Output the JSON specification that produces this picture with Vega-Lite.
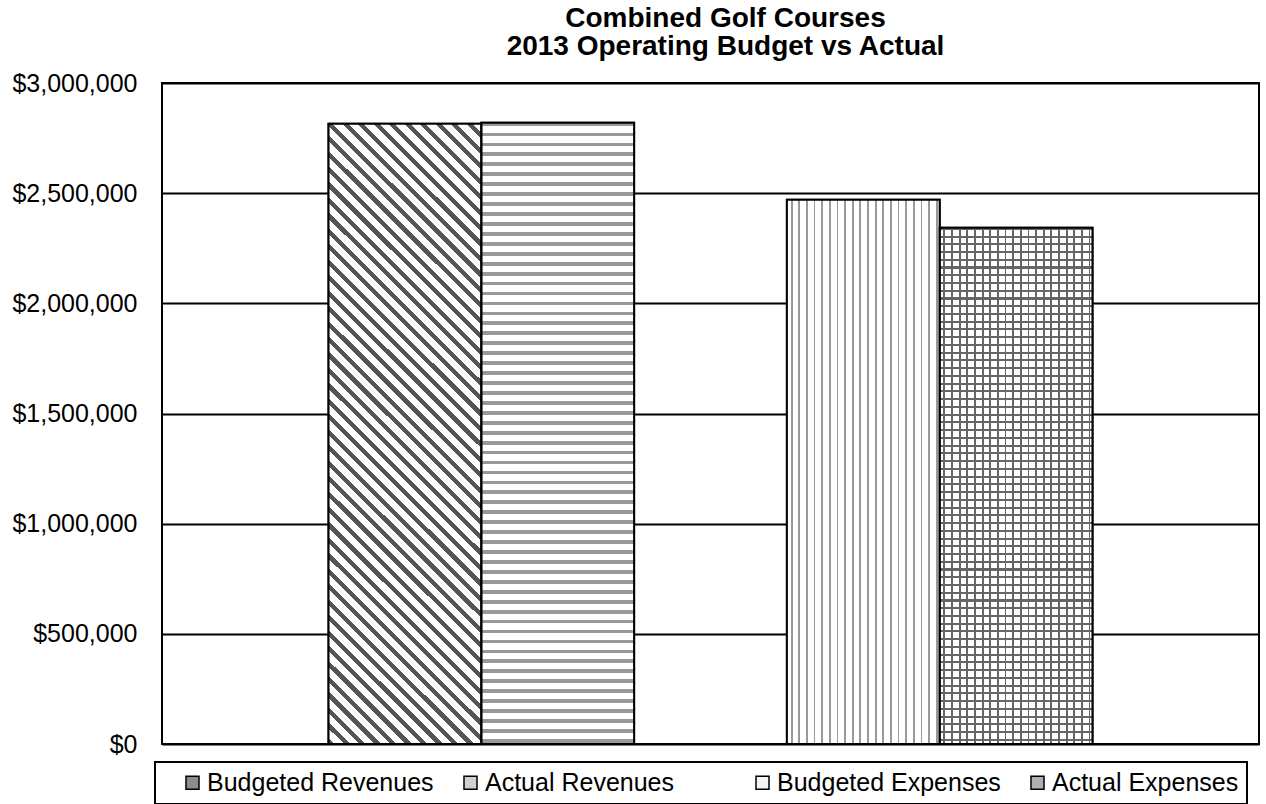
{
  "$schema": "https://vega.github.io/schema/vega-lite/v6.json",
  "width": 1097,
  "height": 661,
  "autosize": {"type": "none"},
  "padding": {"left": 162, "top": 83, "right": 7, "bottom": 60},
  "background": "white",
  "title": {
    "text": ["Combined Golf Courses", "2013 Operating Budget vs Actual"],
    "font": "Liberation Sans",
    "fontSize": 28,
    "fontWeight": "bold",
    "color": "#000",
    "anchor": "middle",
    "dx": 15,
    "lineHeight": 28,
    "offset": 10
  },
  "data": {
    "values": [
      {"series": "Budgeted Revenues", "value": 2815000},
      {"series": "Actual Revenues", "value": 2820000},
      {"series": "Budgeted Expenses", "value": 2470000},
      {"series": "Actual Expenses", "value": 2343000}
    ]
  },
  "encoding": {
    "x": {
      "field": "series",
      "type": "nominal",
      "scale": {
        "domain": ["  ", "Budgeted Revenues", "Actual Revenues", " ", "Budgeted Expenses", "Actual Expenses", "   "],
        "paddingInner": 0,
        "paddingOuter": 0.09
      },
      "axis": {"labels": false, "ticks": false, "domain": false, "title": null, "grid": false}
    },
    "y": {
      "field": "value",
      "type": "quantitative",
      "scale": {"domain": [0, 3000000], "nice": false},
      "axis": {
        "values": [0, 500000, 1000000, 1500000, 2000000, 2500000, 3000000],
        "format": "$,.0f",
        "title": null,
        "domain": false,
        "ticks": false,
        "labelPadding": 25,
        "labelFont": "Liberation Sans",
        "labelFontSize": 25,
        "labelColor": "#000",
        "grid": true,
        "gridColor": "#000",
        "gridWidth": 2,
        "gridOpacity": 1
      }
    }
  },
  "layer": [
    {
      "mark": {"type": "bar", "strokeWidth": 2},
      "encoding": {
        "color": {
          "field": "series",
          "type": "nominal",
          "scale": {
            "domain": ["Budgeted Revenues", "Actual Revenues", " ", "Budgeted Expenses", "Actual Expenses"],
            "range": ["#8c8c8c", "#d0d0d0", "rgba(255,255,255,0)", "#f4f4f4", "#b0b0b0"]
          },
          "legend": {"title": " "}
        },
        "stroke": {
          "field": "series",
          "type": "nominal",
          "scale": {
            "domain": ["Budgeted Revenues", "Actual Revenues", " ", "Budgeted Expenses", "Actual Expenses"],
            "range": ["#000", "#000", "rgba(0,0,0,0)", "#000", "#000"]
          },
          "legend": {"title": " "}
        }
      }
    },
    {
      "transform": [{"filter": "datum.series === 'Budgeted Revenues'"}],
      "mark": {
        "type": "bar",
        "fill": {
          "gradient": "linear", "x1": 0, "y1": 1, "x2": 0.2888, "y2": -0.1748,
          "stops": [
            {"offset":0,"color":"#555"},{"offset":0.008,"color":"#555"},{"offset":0.008,"color":"#fff"},{"offset":0.02,"color":"#fff"},
            {"offset":0.02,"color":"#555"},{"offset":0.028,"color":"#555"},{"offset":0.028,"color":"#fff"},{"offset":0.04,"color":"#fff"},
            {"offset":0.04,"color":"#555"},{"offset":0.048,"color":"#555"},{"offset":0.048,"color":"#fff"},{"offset":0.06,"color":"#fff"},
            {"offset":0.06,"color":"#555"},{"offset":0.068,"color":"#555"},{"offset":0.068,"color":"#fff"},{"offset":0.08,"color":"#fff"},
            {"offset":0.08,"color":"#555"},{"offset":0.088,"color":"#555"},{"offset":0.088,"color":"#fff"},{"offset":0.1,"color":"#fff"},
            {"offset":0.1,"color":"#555"},{"offset":0.108,"color":"#555"},{"offset":0.108,"color":"#fff"},{"offset":0.12,"color":"#fff"},
            {"offset":0.12,"color":"#555"},{"offset":0.128,"color":"#555"},{"offset":0.128,"color":"#fff"},{"offset":0.14,"color":"#fff"},
            {"offset":0.14,"color":"#555"},{"offset":0.148,"color":"#555"},{"offset":0.148,"color":"#fff"},{"offset":0.16,"color":"#fff"},
            {"offset":0.16,"color":"#555"},{"offset":0.168,"color":"#555"},{"offset":0.168,"color":"#fff"},{"offset":0.18,"color":"#fff"},
            {"offset":0.18,"color":"#555"},{"offset":0.188,"color":"#555"},{"offset":0.188,"color":"#fff"},{"offset":0.2,"color":"#fff"},
            {"offset":0.2,"color":"#555"},{"offset":0.208,"color":"#555"},{"offset":0.208,"color":"#fff"},{"offset":0.22,"color":"#fff"},
            {"offset":0.22,"color":"#555"},{"offset":0.228,"color":"#555"},{"offset":0.228,"color":"#fff"},{"offset":0.24,"color":"#fff"},
            {"offset":0.24,"color":"#555"},{"offset":0.248,"color":"#555"},{"offset":0.248,"color":"#fff"},{"offset":0.26,"color":"#fff"},
            {"offset":0.26,"color":"#555"},{"offset":0.268,"color":"#555"},{"offset":0.268,"color":"#fff"},{"offset":0.28,"color":"#fff"},
            {"offset":0.28,"color":"#555"},{"offset":0.288,"color":"#555"},{"offset":0.288,"color":"#fff"},{"offset":0.3,"color":"#fff"},
            {"offset":0.3,"color":"#555"},{"offset":0.308,"color":"#555"},{"offset":0.308,"color":"#fff"},{"offset":0.32,"color":"#fff"},
            {"offset":0.32,"color":"#555"},{"offset":0.328,"color":"#555"},{"offset":0.328,"color":"#fff"},{"offset":0.34,"color":"#fff"},
            {"offset":0.34,"color":"#555"},{"offset":0.348,"color":"#555"},{"offset":0.348,"color":"#fff"},{"offset":0.36,"color":"#fff"},
            {"offset":0.36,"color":"#555"},{"offset":0.368,"color":"#555"},{"offset":0.368,"color":"#fff"},{"offset":0.38,"color":"#fff"},
            {"offset":0.38,"color":"#555"},{"offset":0.388,"color":"#555"},{"offset":0.388,"color":"#fff"},{"offset":0.4,"color":"#fff"},
            {"offset":0.4,"color":"#555"},{"offset":0.408,"color":"#555"},{"offset":0.408,"color":"#fff"},{"offset":0.42,"color":"#fff"},
            {"offset":0.42,"color":"#555"},{"offset":0.428,"color":"#555"},{"offset":0.428,"color":"#fff"},{"offset":0.44,"color":"#fff"},
            {"offset":0.44,"color":"#555"},{"offset":0.448,"color":"#555"},{"offset":0.448,"color":"#fff"},{"offset":0.46,"color":"#fff"},
            {"offset":0.46,"color":"#555"},{"offset":0.468,"color":"#555"},{"offset":0.468,"color":"#fff"},{"offset":0.48,"color":"#fff"},
            {"offset":0.48,"color":"#555"},{"offset":0.488,"color":"#555"},{"offset":0.488,"color":"#fff"},{"offset":0.5,"color":"#fff"},
            {"offset":0.5,"color":"#555"},{"offset":0.508,"color":"#555"},{"offset":0.508,"color":"#fff"},{"offset":0.52,"color":"#fff"},
            {"offset":0.52,"color":"#555"},{"offset":0.528,"color":"#555"},{"offset":0.528,"color":"#fff"},{"offset":0.54,"color":"#fff"},
            {"offset":0.54,"color":"#555"},{"offset":0.548,"color":"#555"},{"offset":0.548,"color":"#fff"},{"offset":0.56,"color":"#fff"},
            {"offset":0.56,"color":"#555"},{"offset":0.568,"color":"#555"},{"offset":0.568,"color":"#fff"},{"offset":0.58,"color":"#fff"},
            {"offset":0.58,"color":"#555"},{"offset":0.588,"color":"#555"},{"offset":0.588,"color":"#fff"},{"offset":0.6,"color":"#fff"},
            {"offset":0.6,"color":"#555"},{"offset":0.608,"color":"#555"},{"offset":0.608,"color":"#fff"},{"offset":0.62,"color":"#fff"},
            {"offset":0.62,"color":"#555"},{"offset":0.628,"color":"#555"},{"offset":0.628,"color":"#fff"},{"offset":0.64,"color":"#fff"},
            {"offset":0.64,"color":"#555"},{"offset":0.648,"color":"#555"},{"offset":0.648,"color":"#fff"},{"offset":0.66,"color":"#fff"},
            {"offset":0.66,"color":"#555"},{"offset":0.668,"color":"#555"},{"offset":0.668,"color":"#fff"},{"offset":0.68,"color":"#fff"},
            {"offset":0.68,"color":"#555"},{"offset":0.688,"color":"#555"},{"offset":0.688,"color":"#fff"},{"offset":0.7,"color":"#fff"},
            {"offset":0.7,"color":"#555"},{"offset":0.708,"color":"#555"},{"offset":0.708,"color":"#fff"},{"offset":0.72,"color":"#fff"},
            {"offset":0.72,"color":"#555"},{"offset":0.728,"color":"#555"},{"offset":0.728,"color":"#fff"},{"offset":0.74,"color":"#fff"},
            {"offset":0.74,"color":"#555"},{"offset":0.748,"color":"#555"},{"offset":0.748,"color":"#fff"},{"offset":0.76,"color":"#fff"},
            {"offset":0.76,"color":"#555"},{"offset":0.768,"color":"#555"},{"offset":0.768,"color":"#fff"},{"offset":0.78,"color":"#fff"},
            {"offset":0.78,"color":"#555"},{"offset":0.788,"color":"#555"},{"offset":0.788,"color":"#fff"},{"offset":0.8,"color":"#fff"},
            {"offset":0.8,"color":"#555"},{"offset":0.808,"color":"#555"},{"offset":0.808,"color":"#fff"},{"offset":0.82,"color":"#fff"},
            {"offset":0.82,"color":"#555"},{"offset":0.828,"color":"#555"},{"offset":0.828,"color":"#fff"},{"offset":0.84,"color":"#fff"},
            {"offset":0.84,"color":"#555"},{"offset":0.848,"color":"#555"},{"offset":0.848,"color":"#fff"},{"offset":0.86,"color":"#fff"},
            {"offset":0.86,"color":"#555"},{"offset":0.868,"color":"#555"},{"offset":0.868,"color":"#fff"},{"offset":0.88,"color":"#fff"},
            {"offset":0.88,"color":"#555"},{"offset":0.888,"color":"#555"},{"offset":0.888,"color":"#fff"},{"offset":0.9,"color":"#fff"},
            {"offset":0.9,"color":"#555"},{"offset":0.908,"color":"#555"},{"offset":0.908,"color":"#fff"},{"offset":0.92,"color":"#fff"},
            {"offset":0.92,"color":"#555"},{"offset":0.928,"color":"#555"},{"offset":0.928,"color":"#fff"},{"offset":0.94,"color":"#fff"},
            {"offset":0.94,"color":"#555"},{"offset":0.948,"color":"#555"},{"offset":0.948,"color":"#fff"},{"offset":0.96,"color":"#fff"},
            {"offset":0.96,"color":"#555"},{"offset":0.968,"color":"#555"},{"offset":0.968,"color":"#fff"},{"offset":0.98,"color":"#fff"},
            {"offset":0.98,"color":"#555"},{"offset":0.988,"color":"#555"},{"offset":0.988,"color":"#fff"},{"offset":1,"color":"#fff"}
          ]
        }
      }
    },
    {
      "transform": [{"filter": "datum.series === 'Actual Revenues'"}],
      "mark": {
        "type": "bar",
        "fill": {
          "gradient": "linear", "x1": 0, "y1": 0, "x2": 0, "y2": 1,
          "stops": [
            {"offset":0,"color":"#999"},{"offset":0.006,"color":"#999"},{"offset":0.006,"color":"#fff"},{"offset":0.016,"color":"#fff"},
            {"offset":0.016,"color":"#999"},{"offset":0.022,"color":"#999"},{"offset":0.022,"color":"#fff"},{"offset":0.032,"color":"#fff"},
            {"offset":0.032,"color":"#999"},{"offset":0.038,"color":"#999"},{"offset":0.038,"color":"#fff"},{"offset":0.048,"color":"#fff"},
            {"offset":0.048,"color":"#999"},{"offset":0.054,"color":"#999"},{"offset":0.054,"color":"#fff"},{"offset":0.064,"color":"#fff"},
            {"offset":0.064,"color":"#999"},{"offset":0.07,"color":"#999"},{"offset":0.07,"color":"#fff"},{"offset":0.08,"color":"#fff"},
            {"offset":0.08,"color":"#999"},{"offset":0.086,"color":"#999"},{"offset":0.086,"color":"#fff"},{"offset":0.096,"color":"#fff"},
            {"offset":0.096,"color":"#999"},{"offset":0.102,"color":"#999"},{"offset":0.102,"color":"#fff"},{"offset":0.112,"color":"#fff"},
            {"offset":0.112,"color":"#999"},{"offset":0.118,"color":"#999"},{"offset":0.118,"color":"#fff"},{"offset":0.128,"color":"#fff"},
            {"offset":0.128,"color":"#999"},{"offset":0.134,"color":"#999"},{"offset":0.134,"color":"#fff"},{"offset":0.144,"color":"#fff"},
            {"offset":0.144,"color":"#999"},{"offset":0.15,"color":"#999"},{"offset":0.15,"color":"#fff"},{"offset":0.16,"color":"#fff"},
            {"offset":0.16,"color":"#999"},{"offset":0.166,"color":"#999"},{"offset":0.166,"color":"#fff"},{"offset":0.176,"color":"#fff"},
            {"offset":0.176,"color":"#999"},{"offset":0.182,"color":"#999"},{"offset":0.182,"color":"#fff"},{"offset":0.192,"color":"#fff"},
            {"offset":0.192,"color":"#999"},{"offset":0.198,"color":"#999"},{"offset":0.198,"color":"#fff"},{"offset":0.208,"color":"#fff"},
            {"offset":0.208,"color":"#999"},{"offset":0.214,"color":"#999"},{"offset":0.214,"color":"#fff"},{"offset":0.224,"color":"#fff"},
            {"offset":0.224,"color":"#999"},{"offset":0.23,"color":"#999"},{"offset":0.23,"color":"#fff"},{"offset":0.24,"color":"#fff"},
            {"offset":0.24,"color":"#999"},{"offset":0.246,"color":"#999"},{"offset":0.246,"color":"#fff"},{"offset":0.256,"color":"#fff"},
            {"offset":0.256,"color":"#999"},{"offset":0.262,"color":"#999"},{"offset":0.262,"color":"#fff"},{"offset":0.272,"color":"#fff"},
            {"offset":0.272,"color":"#999"},{"offset":0.278,"color":"#999"},{"offset":0.278,"color":"#fff"},{"offset":0.288,"color":"#fff"},
            {"offset":0.288,"color":"#999"},{"offset":0.294,"color":"#999"},{"offset":0.294,"color":"#fff"},{"offset":0.304,"color":"#fff"},
            {"offset":0.304,"color":"#999"},{"offset":0.31,"color":"#999"},{"offset":0.31,"color":"#fff"},{"offset":0.32,"color":"#fff"},
            {"offset":0.32,"color":"#999"},{"offset":0.326,"color":"#999"},{"offset":0.326,"color":"#fff"},{"offset":0.336,"color":"#fff"},
            {"offset":0.336,"color":"#999"},{"offset":0.342,"color":"#999"},{"offset":0.342,"color":"#fff"},{"offset":0.352,"color":"#fff"},
            {"offset":0.352,"color":"#999"},{"offset":0.358,"color":"#999"},{"offset":0.358,"color":"#fff"},{"offset":0.368,"color":"#fff"},
            {"offset":0.368,"color":"#999"},{"offset":0.374,"color":"#999"},{"offset":0.374,"color":"#fff"},{"offset":0.384,"color":"#fff"},
            {"offset":0.384,"color":"#999"},{"offset":0.39,"color":"#999"},{"offset":0.39,"color":"#fff"},{"offset":0.4,"color":"#fff"},
            {"offset":0.4,"color":"#999"},{"offset":0.406,"color":"#999"},{"offset":0.406,"color":"#fff"},{"offset":0.416,"color":"#fff"},
            {"offset":0.416,"color":"#999"},{"offset":0.422,"color":"#999"},{"offset":0.422,"color":"#fff"},{"offset":0.432,"color":"#fff"},
            {"offset":0.432,"color":"#999"},{"offset":0.438,"color":"#999"},{"offset":0.438,"color":"#fff"},{"offset":0.448,"color":"#fff"},
            {"offset":0.448,"color":"#999"},{"offset":0.454,"color":"#999"},{"offset":0.454,"color":"#fff"},{"offset":0.464,"color":"#fff"},
            {"offset":0.464,"color":"#999"},{"offset":0.47,"color":"#999"},{"offset":0.47,"color":"#fff"},{"offset":0.48,"color":"#fff"},
            {"offset":0.48,"color":"#999"},{"offset":0.486,"color":"#999"},{"offset":0.486,"color":"#fff"},{"offset":0.496,"color":"#fff"},
            {"offset":0.496,"color":"#999"},{"offset":0.502,"color":"#999"},{"offset":0.502,"color":"#fff"},{"offset":0.512,"color":"#fff"},
            {"offset":0.512,"color":"#999"},{"offset":0.518,"color":"#999"},{"offset":0.518,"color":"#fff"},{"offset":0.528,"color":"#fff"},
            {"offset":0.528,"color":"#999"},{"offset":0.534,"color":"#999"},{"offset":0.534,"color":"#fff"},{"offset":0.544,"color":"#fff"},
            {"offset":0.544,"color":"#999"},{"offset":0.55,"color":"#999"},{"offset":0.55,"color":"#fff"},{"offset":0.56,"color":"#fff"},
            {"offset":0.56,"color":"#999"},{"offset":0.566,"color":"#999"},{"offset":0.566,"color":"#fff"},{"offset":0.576,"color":"#fff"},
            {"offset":0.576,"color":"#999"},{"offset":0.582,"color":"#999"},{"offset":0.582,"color":"#fff"},{"offset":0.592,"color":"#fff"},
            {"offset":0.592,"color":"#999"},{"offset":0.598,"color":"#999"},{"offset":0.598,"color":"#fff"},{"offset":0.608,"color":"#fff"},
            {"offset":0.608,"color":"#999"},{"offset":0.614,"color":"#999"},{"offset":0.614,"color":"#fff"},{"offset":0.624,"color":"#fff"},
            {"offset":0.624,"color":"#999"},{"offset":0.63,"color":"#999"},{"offset":0.63,"color":"#fff"},{"offset":0.64,"color":"#fff"},
            {"offset":0.64,"color":"#999"},{"offset":0.646,"color":"#999"},{"offset":0.646,"color":"#fff"},{"offset":0.656,"color":"#fff"},
            {"offset":0.656,"color":"#999"},{"offset":0.662,"color":"#999"},{"offset":0.662,"color":"#fff"},{"offset":0.672,"color":"#fff"},
            {"offset":0.672,"color":"#999"},{"offset":0.678,"color":"#999"},{"offset":0.678,"color":"#fff"},{"offset":0.688,"color":"#fff"},
            {"offset":0.688,"color":"#999"},{"offset":0.694,"color":"#999"},{"offset":0.694,"color":"#fff"},{"offset":0.704,"color":"#fff"},
            {"offset":0.704,"color":"#999"},{"offset":0.71,"color":"#999"},{"offset":0.71,"color":"#fff"},{"offset":0.72,"color":"#fff"},
            {"offset":0.72,"color":"#999"},{"offset":0.726,"color":"#999"},{"offset":0.726,"color":"#fff"},{"offset":0.736,"color":"#fff"},
            {"offset":0.736,"color":"#999"},{"offset":0.742,"color":"#999"},{"offset":0.742,"color":"#fff"},{"offset":0.752,"color":"#fff"},
            {"offset":0.752,"color":"#999"},{"offset":0.758,"color":"#999"},{"offset":0.758,"color":"#fff"},{"offset":0.768,"color":"#fff"},
            {"offset":0.768,"color":"#999"},{"offset":0.774,"color":"#999"},{"offset":0.774,"color":"#fff"},{"offset":0.784,"color":"#fff"},
            {"offset":0.784,"color":"#999"},{"offset":0.79,"color":"#999"},{"offset":0.79,"color":"#fff"},{"offset":0.8,"color":"#fff"},
            {"offset":0.8,"color":"#999"},{"offset":0.806,"color":"#999"},{"offset":0.806,"color":"#fff"},{"offset":0.816,"color":"#fff"},
            {"offset":0.816,"color":"#999"},{"offset":0.822,"color":"#999"},{"offset":0.822,"color":"#fff"},{"offset":0.832,"color":"#fff"},
            {"offset":0.832,"color":"#999"},{"offset":0.838,"color":"#999"},{"offset":0.838,"color":"#fff"},{"offset":0.848,"color":"#fff"},
            {"offset":0.848,"color":"#999"},{"offset":0.854,"color":"#999"},{"offset":0.854,"color":"#fff"},{"offset":0.864,"color":"#fff"},
            {"offset":0.864,"color":"#999"},{"offset":0.87,"color":"#999"},{"offset":0.87,"color":"#fff"},{"offset":0.88,"color":"#fff"},
            {"offset":0.88,"color":"#999"},{"offset":0.886,"color":"#999"},{"offset":0.886,"color":"#fff"},{"offset":0.896,"color":"#fff"},
            {"offset":0.896,"color":"#999"},{"offset":0.902,"color":"#999"},{"offset":0.902,"color":"#fff"},{"offset":0.912,"color":"#fff"},
            {"offset":0.912,"color":"#999"},{"offset":0.918,"color":"#999"},{"offset":0.918,"color":"#fff"},{"offset":0.928,"color":"#fff"},
            {"offset":0.928,"color":"#999"},{"offset":0.934,"color":"#999"},{"offset":0.934,"color":"#fff"},{"offset":0.944,"color":"#fff"},
            {"offset":0.944,"color":"#999"},{"offset":0.95,"color":"#999"},{"offset":0.95,"color":"#fff"},{"offset":0.96,"color":"#fff"},
            {"offset":0.96,"color":"#999"},{"offset":0.966,"color":"#999"},{"offset":0.966,"color":"#fff"},{"offset":0.976,"color":"#fff"},
            {"offset":0.976,"color":"#999"},{"offset":0.982,"color":"#999"},{"offset":0.982,"color":"#fff"},{"offset":0.992,"color":"#fff"},
            {"offset":0.992,"color":"#999"},{"offset":0.998,"color":"#999"},{"offset":0.998,"color":"#fff"},{"offset":1,"color":"#fff"}
          ]
        }
      }
    },
    {
      "transform": [{"filter": "datum.series === 'Budgeted Expenses'"}],
      "mark": {
        "type": "bar",
        "fill": {
          "gradient": "linear", "x1": 0, "y1": 0, "x2": 1, "y2": 0,
          "stops": [
            {"offset":0,"color":"#fff"},
            {"offset":0.025,"color":"#fff"},{"offset":0.025,"color":"#999"},{"offset":0.037,"color":"#999"},{"offset":0.037,"color":"#fff"},
            {"offset":0.075,"color":"#fff"},{"offset":0.075,"color":"#999"},{"offset":0.087,"color":"#999"},{"offset":0.087,"color":"#fff"},
            {"offset":0.125,"color":"#fff"},{"offset":0.125,"color":"#999"},{"offset":0.137,"color":"#999"},{"offset":0.137,"color":"#fff"},
            {"offset":0.175,"color":"#fff"},{"offset":0.175,"color":"#999"},{"offset":0.187,"color":"#999"},{"offset":0.187,"color":"#fff"},
            {"offset":0.225,"color":"#fff"},{"offset":0.225,"color":"#999"},{"offset":0.237,"color":"#999"},{"offset":0.237,"color":"#fff"},
            {"offset":0.275,"color":"#fff"},{"offset":0.275,"color":"#999"},{"offset":0.287,"color":"#999"},{"offset":0.287,"color":"#fff"},
            {"offset":0.325,"color":"#fff"},{"offset":0.325,"color":"#999"},{"offset":0.337,"color":"#999"},{"offset":0.337,"color":"#fff"},
            {"offset":0.375,"color":"#fff"},{"offset":0.375,"color":"#999"},{"offset":0.387,"color":"#999"},{"offset":0.387,"color":"#fff"},
            {"offset":0.425,"color":"#fff"},{"offset":0.425,"color":"#999"},{"offset":0.437,"color":"#999"},{"offset":0.437,"color":"#fff"},
            {"offset":0.475,"color":"#fff"},{"offset":0.475,"color":"#999"},{"offset":0.487,"color":"#999"},{"offset":0.487,"color":"#fff"},
            {"offset":0.525,"color":"#fff"},{"offset":0.525,"color":"#999"},{"offset":0.537,"color":"#999"},{"offset":0.537,"color":"#fff"},
            {"offset":0.575,"color":"#fff"},{"offset":0.575,"color":"#999"},{"offset":0.587,"color":"#999"},{"offset":0.587,"color":"#fff"},
            {"offset":0.625,"color":"#fff"},{"offset":0.625,"color":"#999"},{"offset":0.637,"color":"#999"},{"offset":0.637,"color":"#fff"},
            {"offset":0.675,"color":"#fff"},{"offset":0.675,"color":"#999"},{"offset":0.687,"color":"#999"},{"offset":0.687,"color":"#fff"},
            {"offset":0.725,"color":"#fff"},{"offset":0.725,"color":"#999"},{"offset":0.737,"color":"#999"},{"offset":0.737,"color":"#fff"},
            {"offset":0.775,"color":"#fff"},{"offset":0.775,"color":"#999"},{"offset":0.787,"color":"#999"},{"offset":0.787,"color":"#fff"},
            {"offset":0.825,"color":"#fff"},{"offset":0.825,"color":"#999"},{"offset":0.837,"color":"#999"},{"offset":0.837,"color":"#fff"},
            {"offset":0.875,"color":"#fff"},{"offset":0.875,"color":"#999"},{"offset":0.887,"color":"#999"},{"offset":0.887,"color":"#fff"},
            {"offset":0.925,"color":"#fff"},{"offset":0.925,"color":"#999"},{"offset":0.937,"color":"#999"},{"offset":0.937,"color":"#fff"},
            {"offset":0.975,"color":"#fff"},{"offset":0.975,"color":"#999"},{"offset":0.987,"color":"#999"},{"offset":0.987,"color":"#fff"},
            {"offset":1,"color":"#fff"}
          ]
        }
      }
    },
    {
      "transform": [{"filter": "datum.series === 'Actual Expenses'"}],
      "mark": {
        "type": "bar",
        "fill": {
          "gradient": "linear", "x1": 0, "y1": 0, "x2": 1, "y2": 0,
          "stops": [
            {"offset":0,"color":"#fff"},
            {"offset":0.025,"color":"#fff"},{"offset":0.025,"color":"#666"},{"offset":0.037,"color":"#666"},{"offset":0.037,"color":"#fff"},
            {"offset":0.075,"color":"#fff"},{"offset":0.075,"color":"#666"},{"offset":0.087,"color":"#666"},{"offset":0.087,"color":"#fff"},
            {"offset":0.125,"color":"#fff"},{"offset":0.125,"color":"#666"},{"offset":0.137,"color":"#666"},{"offset":0.137,"color":"#fff"},
            {"offset":0.175,"color":"#fff"},{"offset":0.175,"color":"#666"},{"offset":0.187,"color":"#666"},{"offset":0.187,"color":"#fff"},
            {"offset":0.225,"color":"#fff"},{"offset":0.225,"color":"#666"},{"offset":0.237,"color":"#666"},{"offset":0.237,"color":"#fff"},
            {"offset":0.275,"color":"#fff"},{"offset":0.275,"color":"#666"},{"offset":0.287,"color":"#666"},{"offset":0.287,"color":"#fff"},
            {"offset":0.325,"color":"#fff"},{"offset":0.325,"color":"#666"},{"offset":0.337,"color":"#666"},{"offset":0.337,"color":"#fff"},
            {"offset":0.375,"color":"#fff"},{"offset":0.375,"color":"#666"},{"offset":0.387,"color":"#666"},{"offset":0.387,"color":"#fff"},
            {"offset":0.425,"color":"#fff"},{"offset":0.425,"color":"#666"},{"offset":0.437,"color":"#666"},{"offset":0.437,"color":"#fff"},
            {"offset":0.475,"color":"#fff"},{"offset":0.475,"color":"#666"},{"offset":0.487,"color":"#666"},{"offset":0.487,"color":"#fff"},
            {"offset":0.525,"color":"#fff"},{"offset":0.525,"color":"#666"},{"offset":0.537,"color":"#666"},{"offset":0.537,"color":"#fff"},
            {"offset":0.575,"color":"#fff"},{"offset":0.575,"color":"#666"},{"offset":0.587,"color":"#666"},{"offset":0.587,"color":"#fff"},
            {"offset":0.625,"color":"#fff"},{"offset":0.625,"color":"#666"},{"offset":0.637,"color":"#666"},{"offset":0.637,"color":"#fff"},
            {"offset":0.675,"color":"#fff"},{"offset":0.675,"color":"#666"},{"offset":0.687,"color":"#666"},{"offset":0.687,"color":"#fff"},
            {"offset":0.725,"color":"#fff"},{"offset":0.725,"color":"#666"},{"offset":0.737,"color":"#666"},{"offset":0.737,"color":"#fff"},
            {"offset":0.775,"color":"#fff"},{"offset":0.775,"color":"#666"},{"offset":0.787,"color":"#666"},{"offset":0.787,"color":"#fff"},
            {"offset":0.825,"color":"#fff"},{"offset":0.825,"color":"#666"},{"offset":0.837,"color":"#666"},{"offset":0.837,"color":"#fff"},
            {"offset":0.875,"color":"#fff"},{"offset":0.875,"color":"#666"},{"offset":0.887,"color":"#666"},{"offset":0.887,"color":"#fff"},
            {"offset":0.925,"color":"#fff"},{"offset":0.925,"color":"#666"},{"offset":0.937,"color":"#666"},{"offset":0.937,"color":"#fff"},
            {"offset":0.975,"color":"#fff"},{"offset":0.975,"color":"#666"},{"offset":0.987,"color":"#666"},{"offset":0.987,"color":"#fff"},
            {"offset":1,"color":"#fff"}
          ]
        }
      }
    },
    {
      "transform": [{"filter": "datum.series === 'Actual Expenses'"}],
      "mark": {
        "type": "bar",
        "fill": {
          "gradient": "linear", "x1": 0, "y1": 0, "x2": 0, "y2": 1,
          "stops": [
            {"offset":0,"color":"#666"},{"offset":0.004,"color":"#666"},{"offset":0.004,"color":"rgba(0,0,0,0)"},{"offset":0.015,"color":"rgba(0,0,0,0)"},
            {"offset":0.015,"color":"#666"},{"offset":0.019,"color":"#666"},{"offset":0.019,"color":"rgba(0,0,0,0)"},{"offset":0.03,"color":"rgba(0,0,0,0)"},
            {"offset":0.03,"color":"#666"},{"offset":0.034,"color":"#666"},{"offset":0.034,"color":"rgba(0,0,0,0)"},{"offset":0.045,"color":"rgba(0,0,0,0)"},
            {"offset":0.045,"color":"#666"},{"offset":0.049,"color":"#666"},{"offset":0.049,"color":"rgba(0,0,0,0)"},{"offset":0.06,"color":"rgba(0,0,0,0)"},
            {"offset":0.06,"color":"#666"},{"offset":0.064,"color":"#666"},{"offset":0.064,"color":"rgba(0,0,0,0)"},{"offset":0.075,"color":"rgba(0,0,0,0)"},
            {"offset":0.075,"color":"#666"},{"offset":0.079,"color":"#666"},{"offset":0.079,"color":"rgba(0,0,0,0)"},{"offset":0.09,"color":"rgba(0,0,0,0)"},
            {"offset":0.09,"color":"#666"},{"offset":0.094,"color":"#666"},{"offset":0.094,"color":"rgba(0,0,0,0)"},{"offset":0.105,"color":"rgba(0,0,0,0)"},
            {"offset":0.105,"color":"#666"},{"offset":0.109,"color":"#666"},{"offset":0.109,"color":"rgba(0,0,0,0)"},{"offset":0.12,"color":"rgba(0,0,0,0)"},
            {"offset":0.12,"color":"#666"},{"offset":0.124,"color":"#666"},{"offset":0.124,"color":"rgba(0,0,0,0)"},{"offset":0.135,"color":"rgba(0,0,0,0)"},
            {"offset":0.135,"color":"#666"},{"offset":0.139,"color":"#666"},{"offset":0.139,"color":"rgba(0,0,0,0)"},{"offset":0.15,"color":"rgba(0,0,0,0)"},
            {"offset":0.15,"color":"#666"},{"offset":0.154,"color":"#666"},{"offset":0.154,"color":"rgba(0,0,0,0)"},{"offset":0.165,"color":"rgba(0,0,0,0)"},
            {"offset":0.165,"color":"#666"},{"offset":0.169,"color":"#666"},{"offset":0.169,"color":"rgba(0,0,0,0)"},{"offset":0.18,"color":"rgba(0,0,0,0)"},
            {"offset":0.18,"color":"#666"},{"offset":0.184,"color":"#666"},{"offset":0.184,"color":"rgba(0,0,0,0)"},{"offset":0.195,"color":"rgba(0,0,0,0)"},
            {"offset":0.195,"color":"#666"},{"offset":0.199,"color":"#666"},{"offset":0.199,"color":"rgba(0,0,0,0)"},{"offset":0.21,"color":"rgba(0,0,0,0)"},
            {"offset":0.21,"color":"#666"},{"offset":0.214,"color":"#666"},{"offset":0.214,"color":"rgba(0,0,0,0)"},{"offset":0.225,"color":"rgba(0,0,0,0)"},
            {"offset":0.225,"color":"#666"},{"offset":0.229,"color":"#666"},{"offset":0.229,"color":"rgba(0,0,0,0)"},{"offset":0.24,"color":"rgba(0,0,0,0)"},
            {"offset":0.24,"color":"#666"},{"offset":0.244,"color":"#666"},{"offset":0.244,"color":"rgba(0,0,0,0)"},{"offset":0.255,"color":"rgba(0,0,0,0)"},
            {"offset":0.255,"color":"#666"},{"offset":0.259,"color":"#666"},{"offset":0.259,"color":"rgba(0,0,0,0)"},{"offset":0.27,"color":"rgba(0,0,0,0)"},
            {"offset":0.27,"color":"#666"},{"offset":0.274,"color":"#666"},{"offset":0.274,"color":"rgba(0,0,0,0)"},{"offset":0.285,"color":"rgba(0,0,0,0)"},
            {"offset":0.285,"color":"#666"},{"offset":0.289,"color":"#666"},{"offset":0.289,"color":"rgba(0,0,0,0)"},{"offset":0.3,"color":"rgba(0,0,0,0)"},
            {"offset":0.3,"color":"#666"},{"offset":0.304,"color":"#666"},{"offset":0.304,"color":"rgba(0,0,0,0)"},{"offset":0.315,"color":"rgba(0,0,0,0)"},
            {"offset":0.315,"color":"#666"},{"offset":0.319,"color":"#666"},{"offset":0.319,"color":"rgba(0,0,0,0)"},{"offset":0.33,"color":"rgba(0,0,0,0)"},
            {"offset":0.33,"color":"#666"},{"offset":0.334,"color":"#666"},{"offset":0.334,"color":"rgba(0,0,0,0)"},{"offset":0.345,"color":"rgba(0,0,0,0)"},
            {"offset":0.345,"color":"#666"},{"offset":0.349,"color":"#666"},{"offset":0.349,"color":"rgba(0,0,0,0)"},{"offset":0.36,"color":"rgba(0,0,0,0)"},
            {"offset":0.36,"color":"#666"},{"offset":0.364,"color":"#666"},{"offset":0.364,"color":"rgba(0,0,0,0)"},{"offset":0.375,"color":"rgba(0,0,0,0)"},
            {"offset":0.375,"color":"#666"},{"offset":0.379,"color":"#666"},{"offset":0.379,"color":"rgba(0,0,0,0)"},{"offset":0.39,"color":"rgba(0,0,0,0)"},
            {"offset":0.39,"color":"#666"},{"offset":0.394,"color":"#666"},{"offset":0.394,"color":"rgba(0,0,0,0)"},{"offset":0.405,"color":"rgba(0,0,0,0)"},
            {"offset":0.405,"color":"#666"},{"offset":0.409,"color":"#666"},{"offset":0.409,"color":"rgba(0,0,0,0)"},{"offset":0.42,"color":"rgba(0,0,0,0)"},
            {"offset":0.42,"color":"#666"},{"offset":0.424,"color":"#666"},{"offset":0.424,"color":"rgba(0,0,0,0)"},{"offset":0.435,"color":"rgba(0,0,0,0)"},
            {"offset":0.435,"color":"#666"},{"offset":0.439,"color":"#666"},{"offset":0.439,"color":"rgba(0,0,0,0)"},{"offset":0.45,"color":"rgba(0,0,0,0)"},
            {"offset":0.45,"color":"#666"},{"offset":0.454,"color":"#666"},{"offset":0.454,"color":"rgba(0,0,0,0)"},{"offset":0.465,"color":"rgba(0,0,0,0)"},
            {"offset":0.465,"color":"#666"},{"offset":0.469,"color":"#666"},{"offset":0.469,"color":"rgba(0,0,0,0)"},{"offset":0.48,"color":"rgba(0,0,0,0)"},
            {"offset":0.48,"color":"#666"},{"offset":0.484,"color":"#666"},{"offset":0.484,"color":"rgba(0,0,0,0)"},{"offset":0.495,"color":"rgba(0,0,0,0)"},
            {"offset":0.495,"color":"#666"},{"offset":0.499,"color":"#666"},{"offset":0.499,"color":"rgba(0,0,0,0)"},{"offset":0.51,"color":"rgba(0,0,0,0)"},
            {"offset":0.51,"color":"#666"},{"offset":0.514,"color":"#666"},{"offset":0.514,"color":"rgba(0,0,0,0)"},{"offset":0.525,"color":"rgba(0,0,0,0)"},
            {"offset":0.525,"color":"#666"},{"offset":0.529,"color":"#666"},{"offset":0.529,"color":"rgba(0,0,0,0)"},{"offset":0.54,"color":"rgba(0,0,0,0)"},
            {"offset":0.54,"color":"#666"},{"offset":0.544,"color":"#666"},{"offset":0.544,"color":"rgba(0,0,0,0)"},{"offset":0.555,"color":"rgba(0,0,0,0)"},
            {"offset":0.555,"color":"#666"},{"offset":0.559,"color":"#666"},{"offset":0.559,"color":"rgba(0,0,0,0)"},{"offset":0.57,"color":"rgba(0,0,0,0)"},
            {"offset":0.57,"color":"#666"},{"offset":0.574,"color":"#666"},{"offset":0.574,"color":"rgba(0,0,0,0)"},{"offset":0.585,"color":"rgba(0,0,0,0)"},
            {"offset":0.585,"color":"#666"},{"offset":0.589,"color":"#666"},{"offset":0.589,"color":"rgba(0,0,0,0)"},{"offset":0.6,"color":"rgba(0,0,0,0)"},
            {"offset":0.6,"color":"#666"},{"offset":0.604,"color":"#666"},{"offset":0.604,"color":"rgba(0,0,0,0)"},{"offset":0.615,"color":"rgba(0,0,0,0)"},
            {"offset":0.615,"color":"#666"},{"offset":0.619,"color":"#666"},{"offset":0.619,"color":"rgba(0,0,0,0)"},{"offset":0.63,"color":"rgba(0,0,0,0)"},
            {"offset":0.63,"color":"#666"},{"offset":0.634,"color":"#666"},{"offset":0.634,"color":"rgba(0,0,0,0)"},{"offset":0.645,"color":"rgba(0,0,0,0)"},
            {"offset":0.645,"color":"#666"},{"offset":0.649,"color":"#666"},{"offset":0.649,"color":"rgba(0,0,0,0)"},{"offset":0.66,"color":"rgba(0,0,0,0)"},
            {"offset":0.66,"color":"#666"},{"offset":0.664,"color":"#666"},{"offset":0.664,"color":"rgba(0,0,0,0)"},{"offset":0.675,"color":"rgba(0,0,0,0)"},
            {"offset":0.675,"color":"#666"},{"offset":0.679,"color":"#666"},{"offset":0.679,"color":"rgba(0,0,0,0)"},{"offset":0.69,"color":"rgba(0,0,0,0)"},
            {"offset":0.69,"color":"#666"},{"offset":0.694,"color":"#666"},{"offset":0.694,"color":"rgba(0,0,0,0)"},{"offset":0.705,"color":"rgba(0,0,0,0)"},
            {"offset":0.705,"color":"#666"},{"offset":0.709,"color":"#666"},{"offset":0.709,"color":"rgba(0,0,0,0)"},{"offset":0.72,"color":"rgba(0,0,0,0)"},
            {"offset":0.72,"color":"#666"},{"offset":0.724,"color":"#666"},{"offset":0.724,"color":"rgba(0,0,0,0)"},{"offset":0.735,"color":"rgba(0,0,0,0)"},
            {"offset":0.735,"color":"#666"},{"offset":0.739,"color":"#666"},{"offset":0.739,"color":"rgba(0,0,0,0)"},{"offset":0.75,"color":"rgba(0,0,0,0)"},
            {"offset":0.75,"color":"#666"},{"offset":0.754,"color":"#666"},{"offset":0.754,"color":"rgba(0,0,0,0)"},{"offset":0.765,"color":"rgba(0,0,0,0)"},
            {"offset":0.765,"color":"#666"},{"offset":0.769,"color":"#666"},{"offset":0.769,"color":"rgba(0,0,0,0)"},{"offset":0.78,"color":"rgba(0,0,0,0)"},
            {"offset":0.78,"color":"#666"},{"offset":0.784,"color":"#666"},{"offset":0.784,"color":"rgba(0,0,0,0)"},{"offset":0.795,"color":"rgba(0,0,0,0)"},
            {"offset":0.795,"color":"#666"},{"offset":0.799,"color":"#666"},{"offset":0.799,"color":"rgba(0,0,0,0)"},{"offset":0.81,"color":"rgba(0,0,0,0)"},
            {"offset":0.81,"color":"#666"},{"offset":0.814,"color":"#666"},{"offset":0.814,"color":"rgba(0,0,0,0)"},{"offset":0.825,"color":"rgba(0,0,0,0)"},
            {"offset":0.825,"color":"#666"},{"offset":0.829,"color":"#666"},{"offset":0.829,"color":"rgba(0,0,0,0)"},{"offset":0.84,"color":"rgba(0,0,0,0)"},
            {"offset":0.84,"color":"#666"},{"offset":0.844,"color":"#666"},{"offset":0.844,"color":"rgba(0,0,0,0)"},{"offset":0.855,"color":"rgba(0,0,0,0)"},
            {"offset":0.855,"color":"#666"},{"offset":0.859,"color":"#666"},{"offset":0.859,"color":"rgba(0,0,0,0)"},{"offset":0.87,"color":"rgba(0,0,0,0)"},
            {"offset":0.87,"color":"#666"},{"offset":0.874,"color":"#666"},{"offset":0.874,"color":"rgba(0,0,0,0)"},{"offset":0.885,"color":"rgba(0,0,0,0)"},
            {"offset":0.885,"color":"#666"},{"offset":0.889,"color":"#666"},{"offset":0.889,"color":"rgba(0,0,0,0)"},{"offset":0.9,"color":"rgba(0,0,0,0)"},
            {"offset":0.9,"color":"#666"},{"offset":0.904,"color":"#666"},{"offset":0.904,"color":"rgba(0,0,0,0)"},{"offset":0.915,"color":"rgba(0,0,0,0)"},
            {"offset":0.915,"color":"#666"},{"offset":0.919,"color":"#666"},{"offset":0.919,"color":"rgba(0,0,0,0)"},{"offset":0.93,"color":"rgba(0,0,0,0)"},
            {"offset":0.93,"color":"#666"},{"offset":0.934,"color":"#666"},{"offset":0.934,"color":"rgba(0,0,0,0)"},{"offset":0.945,"color":"rgba(0,0,0,0)"},
            {"offset":0.945,"color":"#666"},{"offset":0.949,"color":"#666"},{"offset":0.949,"color":"rgba(0,0,0,0)"},{"offset":0.96,"color":"rgba(0,0,0,0)"},
            {"offset":0.96,"color":"#666"},{"offset":0.964,"color":"#666"},{"offset":0.964,"color":"rgba(0,0,0,0)"},{"offset":0.975,"color":"rgba(0,0,0,0)"},
            {"offset":0.975,"color":"#666"},{"offset":0.979,"color":"#666"},{"offset":0.979,"color":"rgba(0,0,0,0)"},{"offset":0.99,"color":"rgba(0,0,0,0)"},
            {"offset":0.99,"color":"#666"},{"offset":0.994,"color":"#666"},{"offset":0.994,"color":"rgba(0,0,0,0)"},{"offset":1,"color":"rgba(0,0,0,0)"}
          ]
        }
      }
    },
    {
      "mark": {"type": "bar", "filled": false, "stroke": "#000", "strokeWidth": 2}
    }
  ],
  "config": {
    "view": {"stroke": "#000", "strokeWidth": 2},
    "legend": {
      "orient": "none",
      "legendX": -7,
      "legendY": 679,
      "direction": "horizontal",
      "columns": 5,
      "titleOrient": "left",
      "titlePadding": 17,
      "titleFontSize": 6,
      "symbolType": "square",
      "symbolSize": 169,
      "symbolStrokeWidth": 1.5,
      "symbolOpacity": 1,
      "labelFont": "Liberation Sans",
      "labelFontSize": 25,
      "labelColor": "#000",
      "labelOffset": 2,
      "labelLimit": 0,
      "columnPadding": 24,
      "padding": 8,
      "strokeColor": "#000",
      "strokeWidth": 2
    }
  }
}
